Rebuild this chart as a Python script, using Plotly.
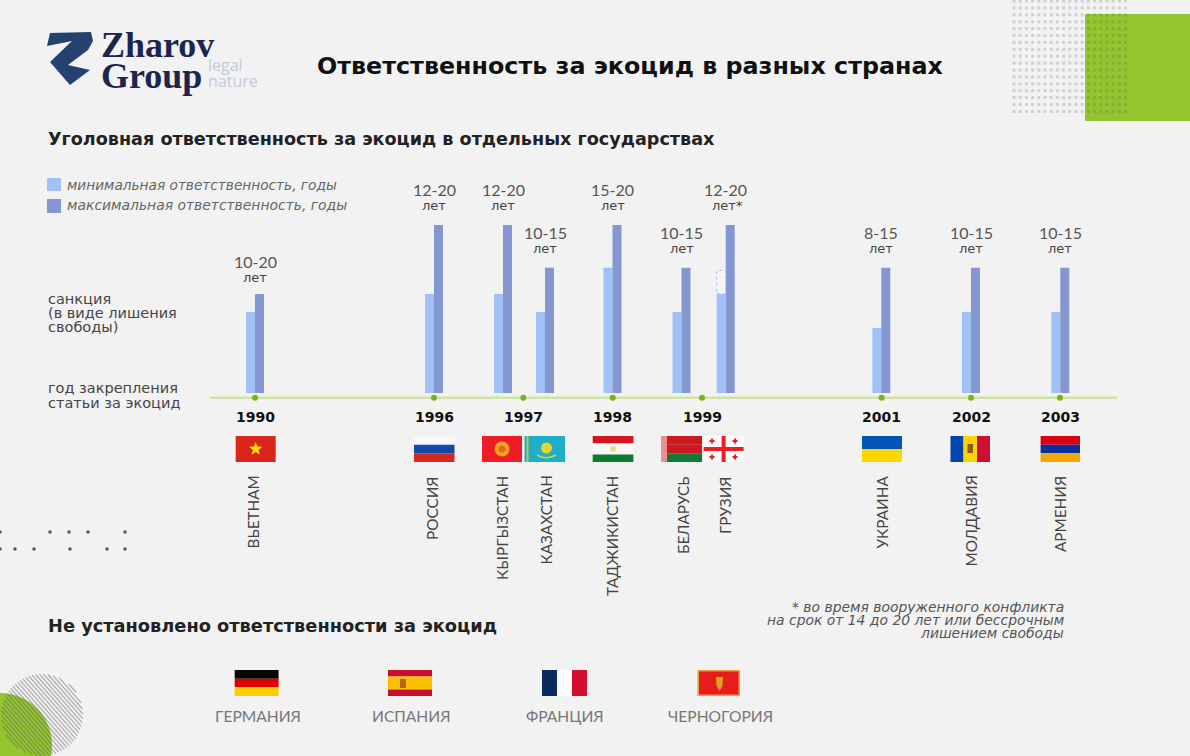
import math

import numpy as np
import plotly.graph_objects as go

# Данные
countries = ["ВЬЕТНАМ", "РОССИЯ", "КЫРГЫЗСТАН", "КАЗАХСТАН", "ТАДЖИКИСТАН",
             "БЕЛАРУСЬ", "ГРУЗИЯ", "УКРАИНА", "МОЛДАВИЯ", "АРМЕНИЯ"]
# heights as drawn in the picture (the Vietnam bar is shorter than its label says)
min_years = [9.65, 11.8, 11.8, 9.65, 14.9, 9.65, 11.8, 7.75, 9.65, 9.65]
max_years = [11.8, 20, 20, 14.9, 20, 14.9, 20, 14.9, 14.9, 14.9]
range_labels = ["10-20", "12-20", "12-20", "10-15", "15-20", "10-15", "12-20", "8-15", "10-15", "10-15"]
unit_labels = ["лет", "лет", "лет", "лет", "лет", "лет", "лет*", "лет", "лет", "лет"]
georgia_conflict_min = 14.6

years = ["1990", "1996", "1997", "1998", "1999", "2001", "2002", "2003"]
no_liability = ["ГЕРМАНИЯ", "ИСПАНИЯ", "ФРАНЦИЯ", "ЧЕРНОГОРИЯ"]

# Разметка (пиксели страницы)
W, H = 1190, 756
BASE_Y = 393
PX_PER_YEAR = 8.4
BAR_W = 9
bar_x = [255, 434, 503, 545, 612.5, 681.5, 725.7, 881.3, 971, 1060.3]
year_x = [255, 434, 523.3, 612.7, 702, 881.6, 971, 1060]
country_label_x = [252, 432, 502, 545, 612, 683, 725, 881, 970, 1060]
range_label_y = [261, 189, 189, 232, 189, 232, 189, 232, 232, 232]

MIN_COLOR = "#a0c1f6"
MAX_COLOR = "#8497d1"
BG = "#f2f2f2"
GREEN = "#92c52e"
HEAD_FONT = "DejaVu Sans"
BODY_FONT = "Lato"

shapes = []
notes = []


def rect(x0, y0, x1, y1, color, **kw):
    shapes.append(dict(type="rect", xref="x", yref="y2", x0=x0, y0=y0, x1=x1, y1=y1,
                       fillcolor=color, line=dict(width=0), layer=kw.pop("layer", "above"), **kw))


def circle(cx, cy, r, color, layer="above"):
    shapes.append(dict(type="circle", xref="x", yref="y2", x0=cx - r, x1=cx + r, y0=cy - r, y1=cy + r,
                       fillcolor=color, line=dict(width=0), layer=layer))


def path(d, color, layer="above"):
    shapes.append(dict(type="path", xref="x", yref="y2", path=d, fillcolor=color,
                       line=dict(width=0), layer=layer))


def star(cx, cy, r, color):
    pts = []
    for i in range(10):
        rad = r if i % 2 == 0 else r * 0.42
        a = -math.pi / 2 + i * math.pi / 5
        pts.append(f"{cx + rad * math.cos(a):.1f},{cy + rad * math.sin(a):.1f}")
    path("M" + " L".join(pts) + " Z", color)


def text(x, y, s, size, color="#555555", family=BODY_FONT, anchor="left", angle=0, yanchor="middle"):
    notes.append(dict(xref="x", yref="y2", x=x, y=y, text=s, showarrow=False, xanchor=anchor,
                      yanchor=yanchor, textangle=angle, borderpad=0,
                      font=dict(size=size, color=color, family=family)))


def h_stripes(x0, x1, y0, y1, colors, parts=None):
    parts = parts or [1] * len(colors)
    total, done = sum(parts), 0
    for c, p in zip(colors, parts):
        rect(x0, y0 + (y1 - y0) * done / total, x1, y0 + (y1 - y0) * (done + p) / total, c)
        done += p


# Флаги
FT, FB = 436, 462
rect(235.7, FT, 275.7, FB, "#da251d")
star(255.7, 449, 7, "#ffdf00")

h_stripes(414, 454.5, FT, FB, ["#f8f8f8", "#0f4aa8", "#d5281e"])

rect(482, FT, 522, FB, "#ee1c25")
circle(502, 449, 7.5, "#f5a81c")
circle(502, 449, 3.5, "#e8631c")

rect(524.5, FT, 565, FB, "#1eaec7")
rect(526.5, FT, 528.5, FB, "#b9c94a")
circle(546.5, 448, 5.5, "#e8d52a")
path("M537 454 Q546 460 556 454 L556 456 Q546 461 537 456 Z", "#d9cf3a")

h_stripes(592.7, 633.4, FT, FB, ["#d4141e", "#f8f8f8", "#0e7a32"], [2, 3, 2])
circle(613, 449, 3, "#f0d98a")

h_stripes(661.6, 702, FT, FB, ["#ce1720", "#ce1720", "#107a38"])
rect(661.6, FT, 667, FB, "#e89090")

rect(703.6, FT, 743.6, FB, "#fbfbfb")
rect(703.6, 447, 743.6, 451, "#f01c24")
rect(721.6, FT, 725.6, FB, "#f01c24")
for fx, fy in [(712, 441), (735, 441), (712, 457), (735, 457)]:
    rect(fx - 2.5, fy - 1, fx + 2.5, fy + 1, "#f01c24")
    rect(fx - 1, fy - 2.5, fx + 1, fy + 2.5, "#f01c24")

h_stripes(862, 902, FT, FB, ["#0057b8", "#ffd700"])

rect(950.5, FT, 963.5, FB, "#0046ae")
rect(963.5, FT, 977, FB, "#ffd200")
rect(977, FT, 990, FB, "#cc0f35")
rect(967.5, 444, 973, 453, "#8a5a2a")

h_stripes(1040.6, 1080, FT, FB, ["#d90012", "#0a2f9c", "#f2a800"])

h_stripes(234.7, 278.6, 670, 696, ["#050505", "#dd0000", "#ffce00"])

h_stripes(388, 432, 670, 696, ["#c8102e", "#f8c000", "#c8102e"], [1, 2, 1])
rect(400, 679, 406, 688, "#b5651d")

rect(542, 670, 557, 696, "#0b2a5e")
rect(557, 670, 572, 696, "#fbfbfb")
rect(572, 670, 587, 696, "#d2102e")

rect(697.4, 670, 740, 696, "#e8a33d")
rect(699, 671.5, 738.5, 694.5, "#e81c1c")
path("M716 677 L723 677 L722.5 686 L719.5 691 L716.5 686 Z", "#d9a520")

# Декор: зелёный блок справа вверху
rect(1085, 14, W, 121, GREEN, layer="below")

# Декор: круги слева внизу
circle(0, 745, 52, GREEN, layer="below")
HATCH_C, HATCH_R = (42, 715), 41
hatch = []
for off in np.arange(-HATCH_R + 1, HATCH_R, 3.1):
    half = math.sqrt(HATCH_R ** 2 - off ** 2)
    ux, uy = 0.66, 0.75
    nx, ny = 0.75, -0.66
    mx, my = HATCH_C[0] + nx * off, HATCH_C[1] + ny * off
    hatch.append(f"M{mx - ux * half:.1f} {my - uy * half:.1f} L{mx + ux * half:.1f} {my + uy * half:.1f}")
shapes.append(dict(type="path", xref="x", yref="y2", path=" ".join(hatch),
                   line=dict(color="rgba(100,100,100,0.5)", width=1.2), layer="below"))

# Логотип
path("M50 33 L91 32 L93 41 L88 50 L68 65 L90 70 L70 85 L50 62 L72 41 L47 46 Z", "#25416f")
text(100, 45, "<b>Zharov</b>", 36, "#1b2550", "Liberation Serif")
text(100, 76, "<b>Group</b>", 36, "#1b2550", "Liberation Serif")
text(207, 65, "legal", 16, "#c3cad8", "Open Sans")
text(207, 81, "nature", 16, "#c3cad8", "Open Sans")

# Заголовки
text(316, 66, "<b>Ответственность за экоцид в разных странах</b>", 23.8, "#111111", HEAD_FONT)
text(47, 139, "<b>Уголовная ответственность за экоцид в отдельных государствах</b>", 17.6, "#222222", HEAD_FONT)
text(47, 625, "<b>Не установлено ответственности за экоцид</b>", 17.8, "#222222", HEAD_FONT)

# Легенда
rect(47, 178, 61, 191, MIN_COLOR)
rect(47, 199, 61, 213, MAX_COLOR)
text(66, 185, "<i>минимальная ответственность, годы</i>", 13.7, "#666666", HEAD_FONT)
text(66, 205, "<i>максимальная ответственность, годы</i>", 13.9, "#666666", HEAD_FONT)

# Подписи слева
for y, s in [(299, "санкция"), (313, "(в виде лишения"), (327, "свободы)"),
             (388, "год закрепления"), (403, "статьи за экоцид")]:
    text(47, y, s, 14.5, "#444444", HEAD_FONT)

# Подписи столбцов и стран
for cx, ly, rng, unit, lx, name in zip(bar_x, range_label_y, range_labels, unit_labels,
                                       country_label_x, countries):
    text(cx, ly, rng, 16, "#555555", anchor="center")
    text(cx + (2 if "*" in unit else 0), ly + 16, unit, 13, "#444444", HEAD_FONT, anchor="center")
    text(lx, 475, name, 15.3, "#444444", anchor="center", angle=-90, yanchor="top")

for x, s in zip(year_x, years):
    text(x, 417, f"<b>{s}</b>", 14, "#111111", HEAD_FONT, anchor="center")

for x, s in zip([258, 411, 565, 720], no_liability):
    text(x, 716, s, 15.6, "#777777", anchor="center")

# Сноска
for y, s in [(607, "* во время вооруженного конфликта"),
             (620, "на срок от 14 до 20 лет или бессрочным"),
             (633, "лишением свободы")]:
    text(1065, y, f"<i>{s}</i>", 13.9, "#555555", HEAD_FONT, anchor="right")

# Пунктирная часть столбца Грузии
georgia = countries.index("ГРУЗИЯ")
shapes.append(dict(type="rect", xref="x", yref="y", x0=bar_x[georgia] - BAR_W, x1=bar_x[georgia],
                   y0=min_years[georgia], y1=georgia_conflict_min, fillcolor="rgba(255,255,255,0.35)",
                   line=dict(color=MIN_COLOR, width=1, dash="dot"), layer="above"))

fig = go.Figure()

# Столбцы
fig.add_trace(go.Bar(x=bar_x, y=min_years, width=BAR_W, offset=-BAR_W, marker=dict(color=MIN_COLOR, line_width=0),
                     name="минимальная ответственность, годы", hovertext=countries))
fig.add_trace(go.Bar(x=bar_x, y=max_years, width=BAR_W, offset=0, marker=dict(color=MAX_COLOR, line_width=0),
                     name="максимальная ответственность, годы", hovertext=countries))

# Линия времени
fig.add_trace(go.Scatter(x=[210, 1117], y=[397.7, 397.7], yaxis="y2", mode="lines",
                         line=dict(color="#cfe3a6", width=2.5), hoverinfo="skip"))
fig.add_trace(go.Scatter(x=year_x, y=[397.7] * len(year_x), yaxis="y2", mode="markers",
                         marker=dict(color="#79b31c", size=6), text=years, hoverinfo="text"))

# Декор: сетка точек справа вверху
gx, gy = np.meshgrid(np.arange(1014, 1128, 6.2), np.arange(1, 116, 6.9))
fig.add_trace(go.Scatter(x=gx.ravel(), y=gy.ravel(), yaxis="y2", mode="markers",
                         marker=dict(color="rgba(90,90,90,0.22)", size=3, symbol="square"), hoverinfo="skip"))

# Декор: точки слева
fig.add_trace(go.Scatter(x=[0, 50, 69, 88, 125, 0, 15, 34, 70, 107, 125],
                         y=[532, 532, 532, 532, 532, 549, 549, 549, 549, 549, 549], yaxis="y2", mode="markers",
                         marker=dict(color="#555555", size=3.5), hoverinfo="skip"))

fig.update_layout(
    width=W, height=H,
    margin=dict(l=0, r=0, t=0, b=0),
    paper_bgcolor=BG, plot_bgcolor=BG,
    showlegend=False,
    barmode="overlay",
    shapes=shapes,
    annotations=notes,
    xaxis=dict(range=[0, W], visible=False, fixedrange=True),
    yaxis=dict(range=[(BASE_Y - H) / PX_PER_YEAR, BASE_Y / PX_PER_YEAR], visible=False, fixedrange=True),
    yaxis2=dict(range=[H, 0], overlaying="y", visible=False, fixedrange=True),
)

fig.write_html("out.html", config={"displayModeBar": False}, post_script="document.body.style.margin='0';")
